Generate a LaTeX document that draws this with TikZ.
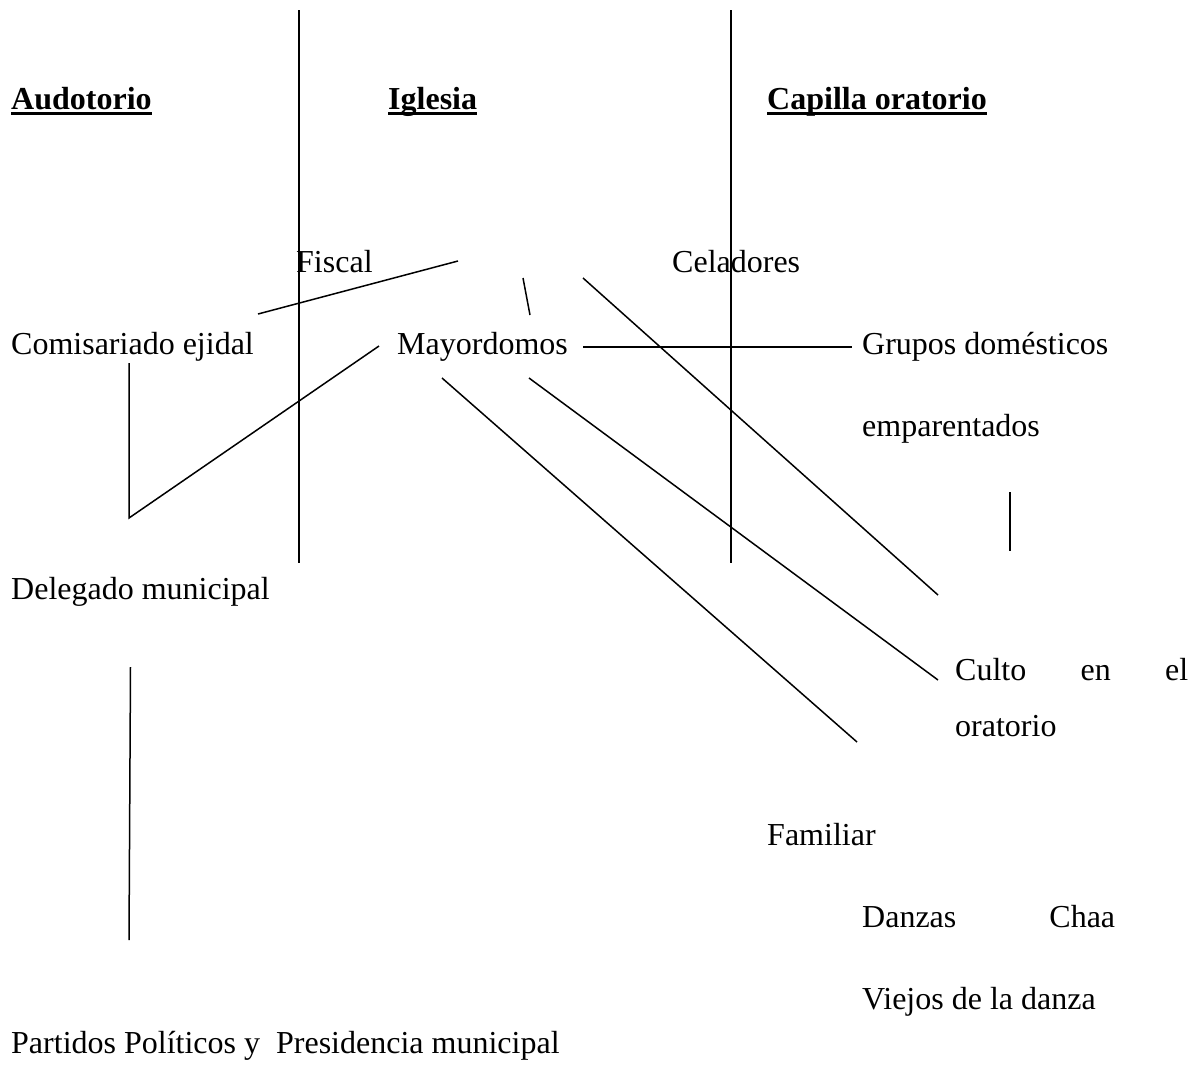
\documentclass[tikz,border=0pt]{standalone}
\usepackage{fontspec}
\setmainfont{Liberation Serif}
\begin{document}
\begin{tikzpicture}[x=1pt,y=-1pt,
  lbl/.style={anchor=base west,inner sep=0pt,font=\fontsize{32}{38}\selectfont},
  head/.style={lbl,font=\fontsize{32}{38}\selectfont\bfseries},
  ul/.style={line width=3pt},
  conn/.style={line width=1.5pt}]
\useasboundingbox (0,0) rectangle (1199,1072);
% headings
\node[head] (aud) at (11,109) {Audotorio};
\node[head] (igl) at (388,109) {Iglesia};
\node[head] (cap) at (767,109) {Capilla oratorio};
\foreach \n in {aud,igl,cap}
  \draw[ul] ([yshift=-4.5pt]\n.base west) -- ([yshift=-4.5pt]\n.base east);
% texts
\node[lbl] (fis) at (296,272) {Fiscal};
\node[lbl] (cel) at (672,272) {Celadores};
\node[lbl] (com) at (11,354) {Comisariado ejidal};
\node[lbl] (may) at (397,354) {Mayordomos};
\node[lbl] (gru) at (862,354) {Grupos domésticos};
\node[lbl] (emp) at (862,436) {emparentados};
\node[lbl] (del) at (11,599) {Delegado municipal};
\node[lbl] (cul) at (955,680) {\makebox[233pt][s]{Culto en el}};
\node[lbl] (ora) at (955,736) {oratorio};
\node[lbl] (fam) at (767,845) {Familiar};
\node[lbl] (dan) at (862,927) {\makebox[253pt][s]{Danzas Chaa}};
\node[lbl] (vie) at (862,1009) {Viejos de la danza};
\node[lbl] (par) at (11,1053) {Partidos Políticos y\ \ Presidencia municipal};
% coordinates
\coordinate (v1t) at (299,10);   \coordinate (v1b) at (299,563);
\coordinate (v2t) at (731,10);   \coordinate (v2b) at (731,563);
\coordinate (f1) at (258,314);   \coordinate (f2) at (458,261);
\coordinate (s1) at (523,278);   \coordinate (s2) at (530,315);
\coordinate (l1) at (583,278);   \coordinate (l2) at (938,595);
\coordinate (h1) at (583,347);   \coordinate (h2) at (852,347);
\coordinate (c1) at (129,363);   \coordinate (c2) at (129,518);
\coordinate (c3) at (379,346);
\coordinate (m1) at (529,378);   \coordinate (m2) at (938,680);
\coordinate (n1) at (442,378);   \coordinate (n2) at (857,742);
\coordinate (g1) at (1010,492);  \coordinate (g2) at (1010,551);
\coordinate (d1) at (130.5,667); \coordinate (d2) at (129,940);
% lines
\draw[conn] (v1t) -- (v1b);
\draw[conn] (v2t) -- (v2b);
\draw[conn] (f1) -- (f2);
\draw[conn] (s1) -- (s2);
\draw[conn] (l1) -- (l2);
\draw[conn] (h1) -- (h2);
\draw[conn] (c1) -- (c2) -- (c3);
\draw[conn] (m1) -- (m2);
\draw[conn] (n1) -- (n2);
\draw[conn] (g1) -- (g2);
\draw[conn] (d1) -- (d2);
\end{tikzpicture}
\end{document}
